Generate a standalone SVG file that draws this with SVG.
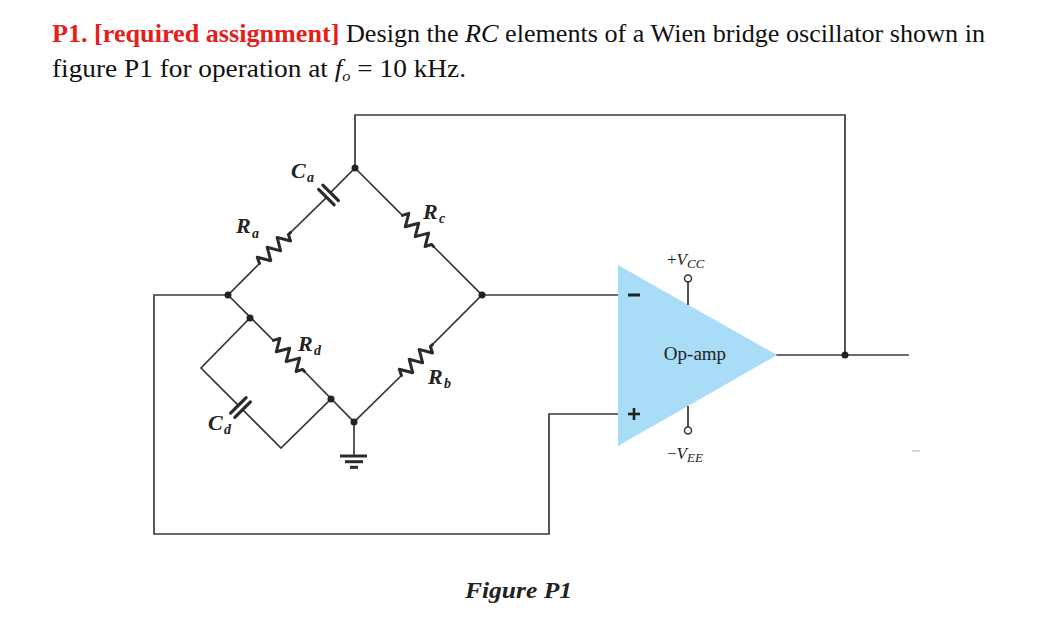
<svg xmlns="http://www.w3.org/2000/svg" width="1064" height="633" viewBox="0 0 1064 633">
<style>
.w{fill:none;stroke:#3a3a3a;stroke-width:1.7;stroke-linecap:square}
.res{fill:none;stroke:#2a2a2a;stroke-width:3;stroke-linejoin:round;stroke-linecap:round}
.plate{stroke:#2a2a2a;stroke-width:3.2;stroke-linecap:round}
.dot{fill:#222}
.lbl{font-family:"Liberation Serif","Times New Roman",serif;font-weight:bold;font-style:italic;fill:#222}
.t{font-family:"Liberation Serif","Times New Roman",serif;fill:#111}
.op{font-family:"Liberation Serif","Times New Roman",serif;fill:#222}
</style>
<defs>
<path id="zz" class="res" d="M-22,0 L-19,-6 L-12,6 L-5,-6 L2,6 L9,-6 L16,6 L19,0 L22,0"/>
<g id="cap">
<line class="plate" x1="-3" y1="-11" x2="-3" y2="11"/>
<line class="plate" x1="3" y1="-11" x2="3" y2="11"/>
</g>
</defs>
<rect width="1064" height="633" fill="#fff"/>

<!-- title -->
<text class="t" x="52" y="42" font-size="25" textLength="933" lengthAdjust="spacingAndGlyphs"><tspan fill="#e3201b" font-weight="bold">P1. [required assignment]</tspan> Design the <tspan font-style="italic">RC</tspan> elements of a Wien bridge oscillator shown in</text>
<text class="t" x="52" y="77" font-size="25" textLength="414" lengthAdjust="spacingAndGlyphs">figure P1  for operation at <tspan font-style="italic">f</tspan><tspan font-style="italic" font-size="15" dy="4">o</tspan><tspan dy="-4"> = 10 kHz.</tspan></text>

<!-- connectors -->
<g id="connectors">
<polyline class="w" points="228,295 258,265"/>
<polyline class="w" points="292,231 326,198"/>
<polyline class="w" points="331,192 355,168"/>
<polyline class="w" points="355,168 401,214"/>
<polyline class="w" points="435,248 482,295"/>
<polyline class="w" points="482,295 434,343"/>
<polyline class="w" points="400,377 354,422"/>
<polyline class="w" points="228,295 272,339"/>
<polyline class="w" points="306,373 354,422"/>
<polyline class="w" points="250,318 201,368 238,405"/>
<polyline class="w" points="243,410 281,448 331,399"/>
<polyline class="w" points="355,168 355,115 845,115 845,355"/>
<polyline class="w" points="777,355 908,355"/>
<polyline class="w" points="482,295 618,295"/>
<polyline class="w" points="228,295 154,295 154,534 549,534 549,414 618,414"/>
<polyline class="w" points="354,422 354,456"/>
<line x1="912" y1="451" x2="920" y2="451" stroke="#ccc" stroke-width="1.5"/>
</g>

<!-- components -->
<g id="Ra"><use href="#zz" transform="translate(275,248) rotate(-45)"/>
<text class="lbl" x="236" y="233" font-size="22">R</text><text class="lbl" x="252" y="238" font-size="14">a</text></g>
<g id="Ca"><use href="#cap" transform="translate(328.5,195) rotate(-45)"/>
<text class="lbl" x="291" y="178" font-size="22">C</text><text class="lbl" x="307" y="182" font-size="14">a</text></g>
<g id="Rc"><use href="#zz" transform="translate(418,231) rotate(45)"/>
<text class="lbl" x="423" y="219" font-size="22">R</text><text class="lbl" x="439" y="223" font-size="14">c</text></g>
<g id="Rb"><use href="#zz" transform="translate(417,360) rotate(-45)"/>
<text class="lbl" x="428" y="384" font-size="22">R</text><text class="lbl" x="444" y="388" font-size="14">b</text></g>
<g id="Rd"><use href="#zz" transform="translate(289,356) rotate(45)"/>
<text class="lbl" x="298" y="351" font-size="22">R</text><text class="lbl" x="314" y="355" font-size="14">d</text></g>
<g id="Cd"><use href="#cap" transform="translate(240.5,407.5) rotate(45)"/>
<text class="lbl" x="208" y="430" font-size="22">C</text><text class="lbl" x="224" y="434" font-size="14">d</text></g>

<g id="ground">
<line x1="340" y1="456" x2="367" y2="456" stroke="#2a2a2a" stroke-width="3"/>
<line x1="345" y1="461.7" x2="363" y2="461.7" stroke="#2a2a2a" stroke-width="3"/>
<line x1="350" y1="467.3" x2="358" y2="467.3" stroke="#2a2a2a" stroke-width="3"/>
</g>

<g id="nodes">
<circle class="dot" cx="355" cy="168" r="3.5"/>
<circle class="dot" cx="228" cy="295" r="3.5"/>
<circle class="dot" cx="482" cy="295" r="3.5"/>
<circle class="dot" cx="250" cy="318" r="3.5"/>
<circle class="dot" cx="331" cy="399" r="3.5"/>
<circle class="dot" cx="354" cy="422" r="3.5"/>
<circle class="dot" cx="845" cy="355" r="3.5"/>
</g>

<g id="opamp">
<polygon points="618,265 618,446 777,355" fill="#a9dcf6"/>
<line x1="628" y1="295" x2="640" y2="295" stroke="#222" stroke-width="3"/>
<line x1="628" y1="414" x2="640" y2="414" stroke="#222" stroke-width="2.6"/>
<line x1="634" y1="408" x2="634" y2="420" stroke="#222" stroke-width="2.6"/>
<text class="op" x="695" y="360" font-size="19" text-anchor="middle">Op-amp</text>
<line x1="688" y1="282" x2="688" y2="305" stroke="#333" stroke-width="1.7"/>
<circle cx="688" cy="278.5" r="3.5" fill="#fff" stroke="#333" stroke-width="1.5"/>
<line x1="688" y1="406" x2="688" y2="427" stroke="#333" stroke-width="1.7"/>
<circle cx="688" cy="430.5" r="3.5" fill="#fff" stroke="#333" stroke-width="1.5"/>
<text class="op" x="667" y="265" font-size="17">+<tspan font-style="italic">V</tspan><tspan font-style="italic" font-size="13" dy="3">CC</tspan></text>
<text class="op" x="667" y="459" font-size="17">−<tspan font-style="italic">V</tspan><tspan font-style="italic" font-size="13" dy="3">EE</tspan></text>
</g>

<text class="lbl" x="465" y="598" font-size="24" textLength="107" lengthAdjust="spacingAndGlyphs">Figure P1</text>
</svg>
